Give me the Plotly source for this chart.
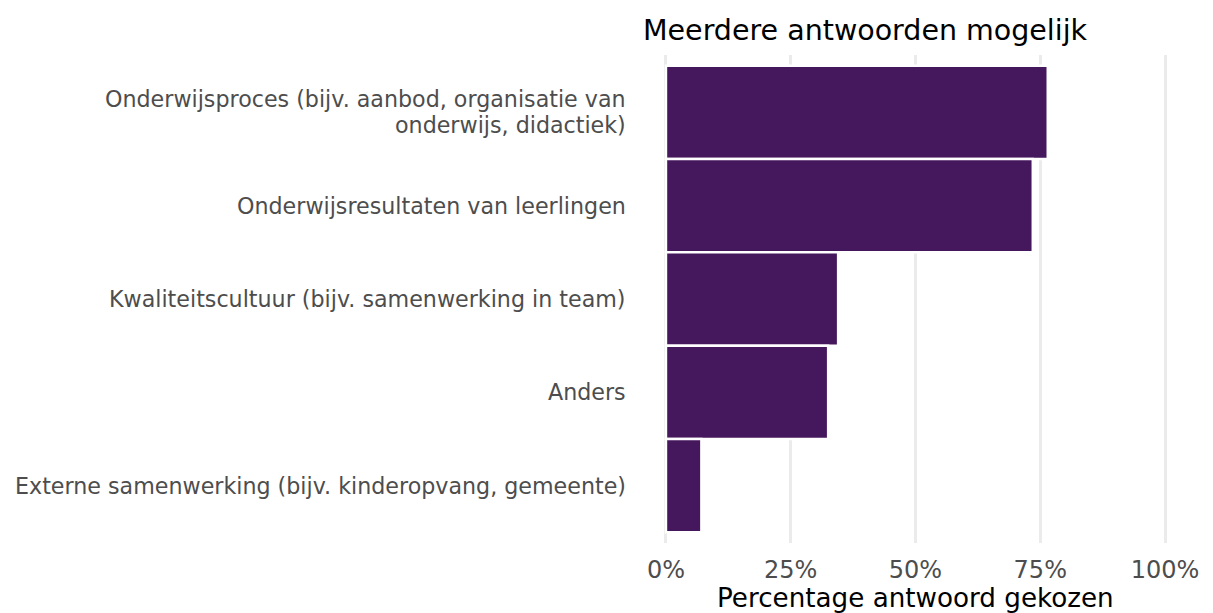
import plotly.graph_objects as go

categories = [
    "Onderwijsproces (bijv. aanbod, organisatie van\nonderwijs, didactiek)",
    "Onderwijsresultaten van leerlingen",
    "Kwaliteitscultuur (bijv. samenwerking in team)",
    "Anders",
    "Externe samenwerking (bijv. kinderopvang, gemeente)",
]
percentages = [76.5, 73.5, 34.5, 32.5, 7.1]
tick_values = [0, 25, 50, 75, 100]
tick_labels = ["0%", "25%", "50%", "75%", "100%"]

FONT = "DejaVu Sans"
LABEL_SIZE = 22.2
LINE_STEP = 26

fig = go.Figure(
    go.Bar(
        x=percentages,
        y=categories,
        orientation="h",
        width=1,
        marker=dict(color="#45175D", line=dict(color="white", width=2.5)),
        hoverinfo="x",
    )
)

annotations = [
    dict(
        text="Meerdere antwoorden mogelijk",
        xref="paper", yref="paper",
        x=0, y=1, yshift=25,
        xanchor="left", yanchor="middle",
        showarrow=False,
        font=dict(family=FONT, size=28.5, color="black"),
    ),
    dict(
        text="Percentage antwoord gekozen",
        xref="paper", yref="paper",
        x=0.5, y=0, yshift=-55,
        xanchor="center", yanchor="middle",
        showarrow=False,
        font=dict(family=FONT, size=26.2, color="black"),
    ),
]

for cat in categories:
    lines = cat.split("\n")
    n = len(lines)
    for i, line in enumerate(lines):
        annotations.append(
            dict(
                text=line,
                xref="paper", yref="y",
                x=0, y=cat,
                xshift=-13,
                yshift=((n - 1) / 2 - i) * LINE_STEP,
                xanchor="right", yanchor="middle",
                showarrow=False,
                font=dict(family=FONT, size=LABEL_SIZE, color="#4D4D4D"),
            )
        )

fig.update_layout(
    width=1213,
    height=613,
    margin=dict(l=640.5, r=22.5, t=55, b=70, pad=0),
    paper_bgcolor="white",
    plot_bgcolor="white",
    showlegend=False,
    font=dict(family=FONT, color="#4D4D4D"),
    annotations=annotations,
)

fig.update_xaxes(
    range=[-5, 105],
    tickvals=tick_values,
    ticktext=tick_labels,
    showgrid=True,
    gridcolor="#EBEBEB",
    gridwidth=3,
    zeroline=False,
    showline=False,
    ticks="outside",
    ticklen=5,
    tickcolor="rgba(0,0,0,0)",
    tickfont=dict(family=FONT, size=24, color="#4D4D4D"),
    fixedrange=True,
)

fig.update_yaxes(
    type="category",
    categoryorder="array",
    categoryarray=categories,
    range=[4.614, -0.614],
    showgrid=False,
    zeroline=False,
    showline=False,
    showticklabels=False,
    fixedrange=True,
)

fig.write_html(
    "out.html",
    config={"displayModeBar": False},
    post_script="document.body.style.margin='0';",
)
